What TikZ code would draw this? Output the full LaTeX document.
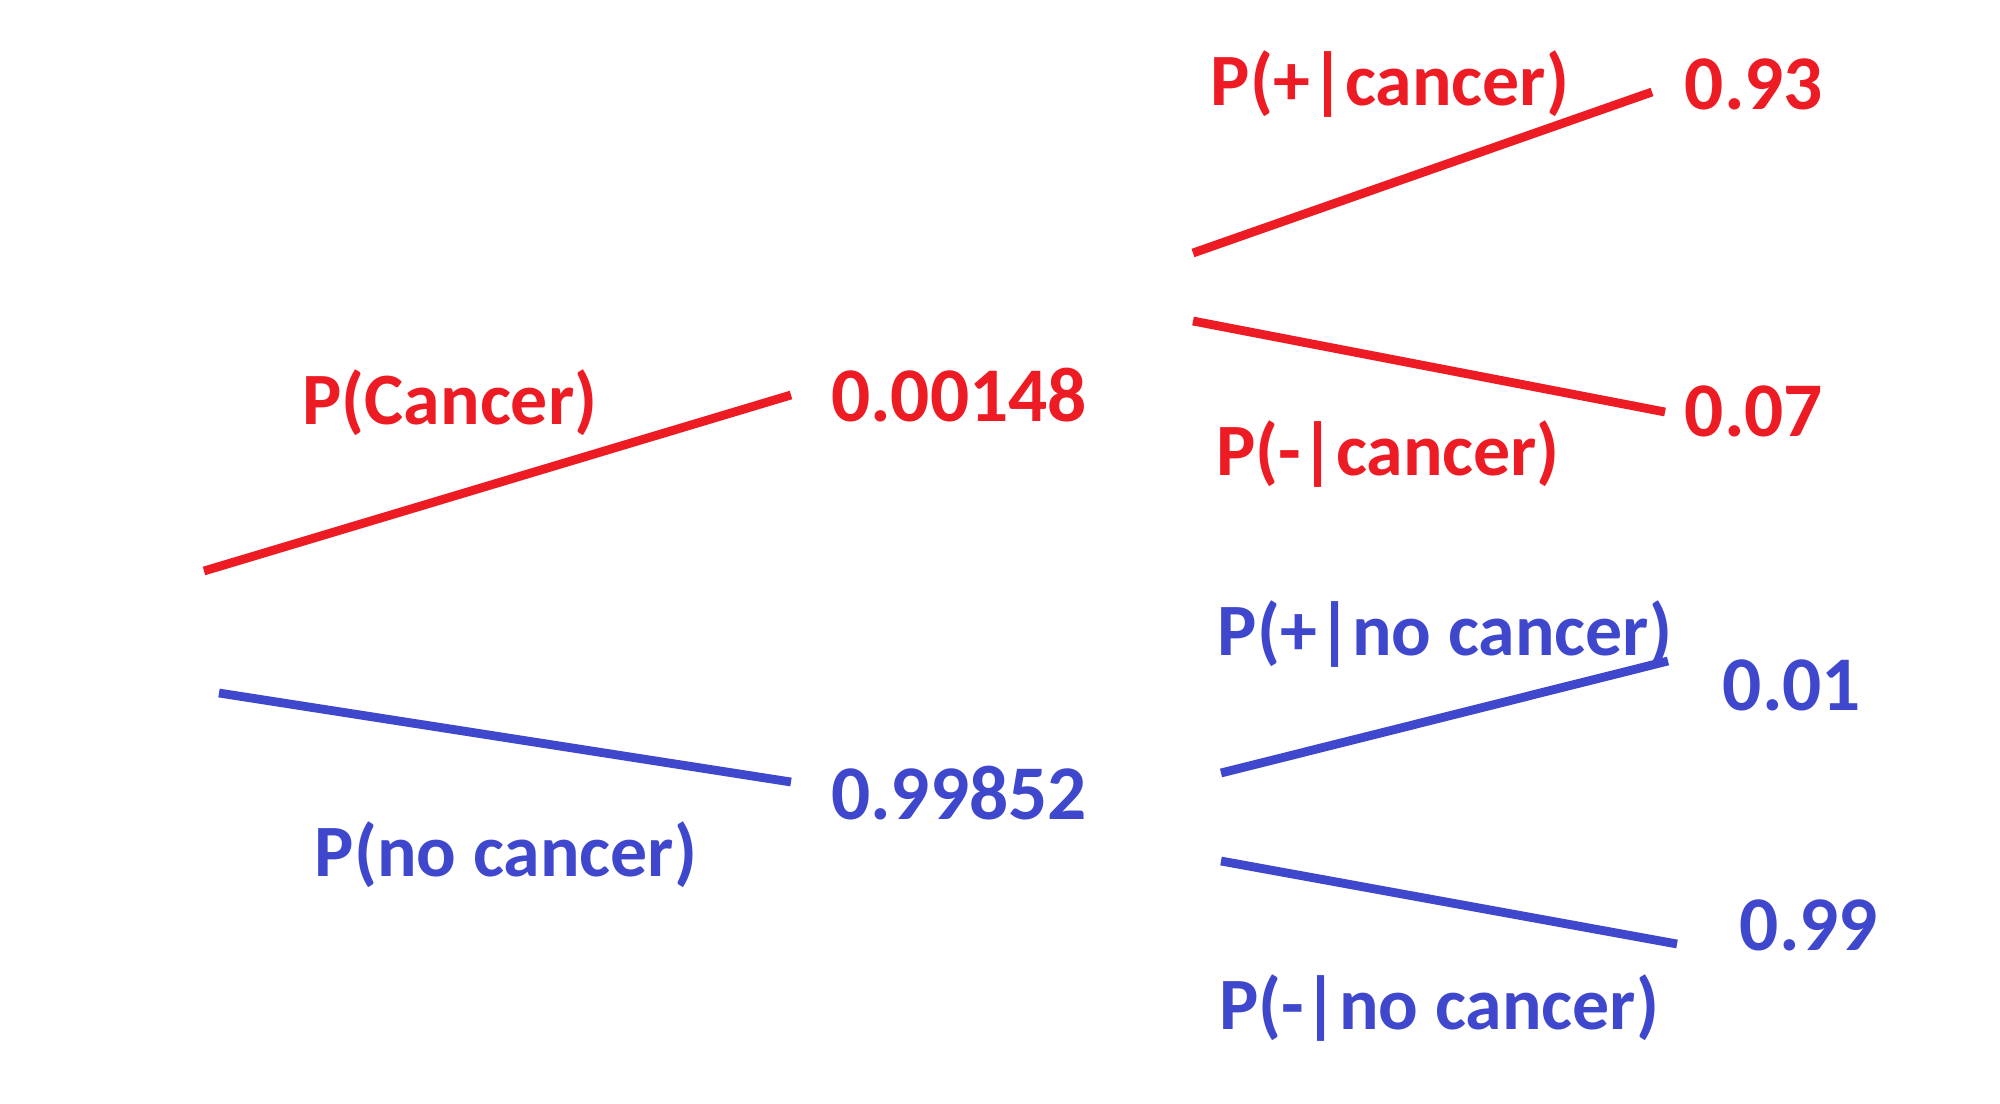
\documentclass[tikz,border=0pt]{standalone}
\usepackage{fontspec}
\setmainfont{Carlito}
\usepackage{tikz}
\usetikzlibrary{positioning}
\usepackage{xcolor}
\definecolor{PaintRed}{RGB}{237,28,36}
\definecolor{PaintBlue}{RGB}{63,72,204}

\begin{document}
\begin{tikzpicture}[
x=0.01cm,y=-0.01cm,
lbl/.style={inner sep=0pt,font=\fontsize{21}{24}\selectfont\bfseries},
num/.style={lbl,font=\fontsize{22}{25}\selectfont\bfseries},
yes/.style={text=PaintRed},
no/.style={text=PaintBlue},
branchyes/.style={draw=PaintRed,line width=2.5pt},
branchno/.style={draw=PaintBlue,line width=2.5pt}
]
\useasboundingbox (0,0) rectangle (2000,1103);
% first level
\node[lbl,yes] (pc) at (450,403) {P(Cancer)};
\node[num,yes] (c) at (959,395) {0.00148};
\node[lbl,no] (pnc) at (506,855) {P(no cancer)};
\node[num,no] (nc) at (959,793) {0.99852};
% second level
\node[lbl,yes] (ppc) at (1390,84) {P(+|cancer)};
\node[num,yes] (cpos) at (1754,84) {0.93};
\node[lbl,yes] (pmc) at (1388,454) {P(-|cancer)};
\node[num,yes] (cneg) at (1754,411) {0.07};
\node[lbl,no] (ppnc) at (1445,634) {P(+|no cancer)};
\node[num,no] (ncpos) at (1792,685) {0.01};
\node[lbl,no] (pmnc) at (1439,1008) {P(-|no cancer)};
\node[num,no] (ncneg) at (1809,925) {0.99};
% branch ends
\coordinate (s1) at (204,571); \coordinate (e1) at (791,395);
\coordinate (s2) at (219,693); \coordinate (e2) at (791,782);
\coordinate (s3) at (1193,253); \coordinate (e3) at (1652,92);
\coordinate (s4) at (1193,321); \coordinate (e4) at (1665,412);
\coordinate (s5) at (1221,773); \coordinate (e5) at (1668,661);
\coordinate (s6) at (1221,861); \coordinate (e6) at (1677,944);
\draw[branchyes] (s1)--(e1); \draw[branchno] (s2)--(e2);
\draw[branchyes] (s3)--(e3); \draw[branchyes] (s4)--(e4);
\draw[branchno] (s5)--(e5); \draw[branchno] (s6)--(e6);
\end{tikzpicture}
\end{document}
